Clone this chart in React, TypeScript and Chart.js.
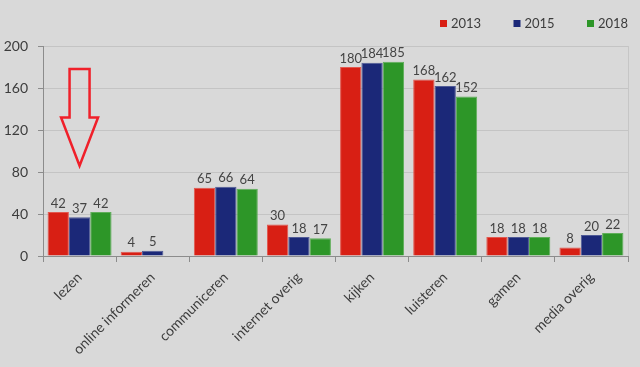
import React, { useEffect, useRef } from "react";
import { Chart, registerables } from "chart.js";

Chart.register(...registerables);

const categories = [
  "lezen",
  "online informeren",
  "communiceren",
  "internet overig",
  "kijken",
  "luisteren",
  "gamen",
  "media overig",
];
const seriesLabels = ["2013", "2015", "2018"];
const values2013 = [42, 4, 65, 30, 180, 168, 18, 8];
const values2015 = [37, 5, 66, 18, 184, 162, 18, 20];
const values2018 = [42, null, 64, 17, 185, 152, 18, 22];
const seriesColors = ["#d81f14", "#1b2878", "#2d9628"];
const seriesBorders = ["#e2574e", "#4f5a96", "#5fae59"];
const yTicks = [0, 40, 80, 120, 160, 200];
// arrow annotation (value coordinates on the "lezen" category)
const arrowCategory = 0;
const arrowTop = 178;
const arrowShoulder = 132;
const arrowTip = 86;

const FONT = "Lato, 'Open Sans', sans-serif";
const TEXT = "#3c3c3c";

const dataLabelPlugin = {
  id: "dataLabels",
  afterDatasetsDraw(chart: any) {
    const ctx = chart.ctx;
    ctx.save();
    ctx.font = `13px ${FONT}`;
    ctx.fillStyle = "#444444";
    ctx.textAlign = "center";
    ctx.textBaseline = "bottom";
    chart.data.datasets.forEach((ds: any, di: number) => {
      const meta = chart.getDatasetMeta(di);
      meta.data.forEach((el: any, i: number) => {
        const v = ds.data[i];
        if (v === null || v === undefined) return;
        ctx.fillText(String(v), el.x, el.y - 2);
      });
    });
    ctx.restore();
  },
};

const legendPlugin = {
  id: "customLegend",
  afterDraw(chart: any) {
    const ctx = chart.ctx;
    const area = chart.chartArea;
    ctx.save();
    ctx.font = `13px ${FONT}`;
    ctx.textBaseline = "middle";
    ctx.textAlign = "left";
    const startX = area.right - 188;
    const y = 24;
    chart.data.datasets.forEach((ds: any, i: number) => {
      const x = startX + i * 73.5;
      ctx.fillStyle = ds.backgroundColor;
      ctx.fillRect(x, y - 4, 7, 7);
      ctx.fillStyle = TEXT;
      ctx.fillText(ds.label, x + 11, y);
    });
    ctx.restore();
  },
};

const arrowPlugin = {
  id: "arrow",
  afterDraw(chart: any) {
    const xs = chart.scales.x;
    const ys = chart.scales.y;
    const cx = xs.getPixelForValue(arrowCategory);
    const yTop = ys.getPixelForValue(arrowTop);
    const ySh = ys.getPixelForValue(arrowShoulder);
    const yTip = ys.getPixelForValue(arrowTip);
    const sw = 10;
    const hw = 18.5;
    const ctx = chart.ctx;
    ctx.save();
    ctx.strokeStyle = "#f0202a";
    ctx.lineWidth = 2.5;
    ctx.lineJoin = "miter";
    ctx.beginPath();
    ctx.moveTo(cx - sw, yTop);
    ctx.lineTo(cx + sw, yTop);
    ctx.lineTo(cx + sw, ySh);
    ctx.lineTo(cx + hw, ySh);
    ctx.lineTo(cx, yTip);
    ctx.lineTo(cx - hw, ySh);
    ctx.lineTo(cx - sw, ySh);
    ctx.closePath();
    ctx.stroke();
    ctx.restore();
  },
};

export default function App() {
  const canvasRef = useRef<HTMLCanvasElement | null>(null);

  useEffect(() => {
    const canvas = canvasRef.current;
    if (!canvas) return;
    const allValues = [values2013, values2015, values2018];
    const chart = new Chart(canvas, {
      type: "bar",
      data: {
        labels: categories,
        datasets: allValues.map((vals, i) => ({
          label: seriesLabels[i],
          data: vals,
          backgroundColor: seriesColors[i],
          borderColor: seriesBorders[i],
          borderWidth: { top: 1, left: 1, right: 1, bottom: 0 },
          categoryPercentage: 0.875,
          barPercentage: 1,
        })),
      },
      options: {
        animation: false,
        responsive: false,
        maintainAspectRatio: false,
        layout: { padding: { top: 46, right: 12, left: 0, bottom: 0 } },
        plugins: {
          legend: { display: false },
          tooltip: { enabled: false },
        },
        scales: {
          x: {
            afterFit: (scale: any) => {
              scale.height = 111;
            },
            grid: {
              offset: true,
              drawOnChartArea: true,
              color: (c: any) => (c.index === undefined ? "#c6c6c6" : "rgba(0,0,0,0)"),
              tickColor: "#8c8c8c",
              tickLength: 6,
            },
            border: { color: "#8c8c8c", width: 1 },
            ticks: {
              maxRotation: 45,
              minRotation: 45,
              padding: 7,
              color: TEXT,
              font: { family: FONT, size: 14 },
            },
          },
          y: {
            min: 0,
            max: 200,
            afterFit: (scale: any) => {
              scale.width = 43;
            },
            afterBuildTicks: (scale: any) => {
              scale.ticks = yTicks.map((v) => ({ value: v }));
            },
            grid: {
              color: "#c4c4c4",
              tickColor: "#8c8c8c",
              tickLength: 5,
            },
            border: { color: "#8c8c8c", width: 1 },
            ticks: {
              padding: 10,
              color: TEXT,
              font: { family: FONT, size: 14 },
            },
          },
        },
      },
      plugins: [dataLabelPlugin, legendPlugin, arrowPlugin],
    });
    return () => chart.destroy();
  }, []);

  return (
    <div
      style={{
        position: "absolute",
        left: 0,
        top: 0,
        width: 640,
        height: 367,
        background: "#d9d9d9",
      }}
    >
      <canvas ref={canvasRef} width={640} height={367} style={{ display: "block" }} />
    </div>
  );
}
